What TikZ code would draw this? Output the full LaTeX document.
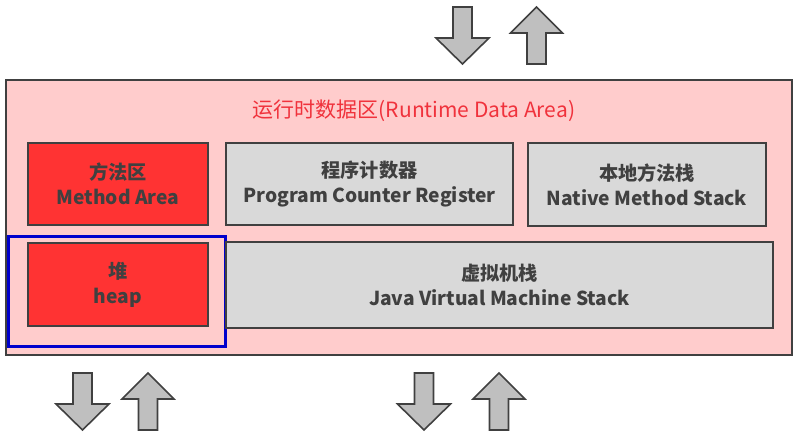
\documentclass[tikz,border=0pt]{standalone}
\usepackage{fontspec}
\setmainfont{Noto Sans CJK SC}
\definecolor{outerfill}{RGB}{255,204,204}
\definecolor{darkline}{RGB}{64,64,64}
\definecolor{redfill}{RGB}{255,51,51}
\definecolor{greyfill}{RGB}{217,217,217}
\definecolor{txt}{RGB}{64,64,64}
\definecolor{titlered}{RGB}{240,50,60}
\definecolor{bluebox}{RGB}{0,0,204}
\definecolor{arrowfill}{RGB}{191,191,191}
\tikzset{
  x=1pt, y=-1pt,
  boxbase/.style={draw=darkline, line width=2pt, inner sep=0pt, align=center,
    font=\fontsize{19.2}{25}\selectfont\bfseries, text=txt},
  redbox/.style={boxbase, fill=redfill},
  greybox/.style={boxbase, fill=greyfill},
  blockarrow/.style={draw=darkline, fill=arrowfill, line width=1.6pt, line join=miter},
  pics/downarrow/.style={code={
    \draw[blockarrow] (-9.5,0) -- (9.5,0) -- (9.5,31) -- (26.5,31) -- (0,57) -- (-26.5,31) -- (-9.5,31) -- cycle;}},
  pics/uparrow/.style={code={
    \draw[blockarrow] (0,0) -- (26,26) -- (9.5,26) -- (9.5,57) -- (-9.5,57) -- (-9.5,26) -- (-26,26) -- cycle;}}
}
\begin{document}
\begin{tikzpicture}
\useasboundingbox (0,0) rectangle (812,444);
% outer area
\node[draw=darkline, fill=outerfill, line width=2pt, minimum width=786, minimum height=275, inner sep=0pt] (outer) at (399,217.5) {};
\node[text=titlered, font=\fontsize{21}{24}\selectfont] (title) at (414,111) {运行时数据区(Runtime Data Area)};
% blue highlight
\node[draw=bluebox, line width=3pt, minimum width=217, minimum height=110, inner sep=0pt] (hl) at (116.5,291) {};
% boxes
\node[redbox, minimum width=180, minimum height=82] (ma) at (118,184) {方法区\\Method Area};
\node[greybox, minimum width=287, minimum height=82] (pc) at (369.5,184) {程序计数器\\Program Counter Register};
\node[greybox, minimum width=238, minimum height=83] (nms) at (647,184.5) {本地方法栈\\Native Method Stack};
\node[redbox, minimum width=180, minimum height=83] (heap) at (118,284.5) {堆\\heap};
\node[greybox, minimum width=547, minimum height=86] (jvm) at (499.5,284.5) {虚拟机栈\\Java Virtual Machine Stack};
% block arrows
\pic (a1) at (462.5,7) {downarrow};
\pic (a2) at (536.5,7) {uparrow};
\pic (a3) at (82.5,373) {downarrow};
\pic (a4) at (148,373) {uparrow};
\pic (a5) at (424,373) {downarrow};
\pic (a6) at (499,373) {uparrow};
\end{tikzpicture}
\end{document}
